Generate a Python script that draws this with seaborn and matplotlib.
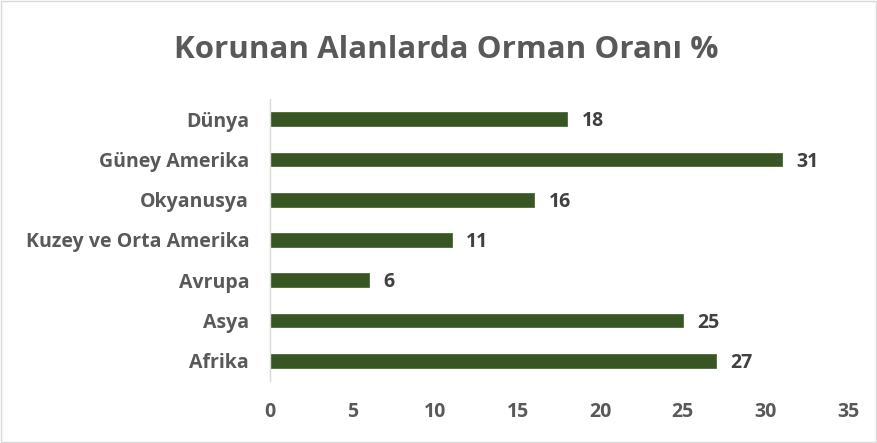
import matplotlib
matplotlib.use("Agg")
import matplotlib.pyplot as plt
import pandas as pd
import seaborn as sns

# Data (top to bottom)
regions = ["Dünya", "Güney Amerika", "Okyanusya", "Kuzey ve Orta Amerika",
           "Avrupa", "Asya", "Afrika"]
forest_pct = [18, 31, 16, 11, 6, 25, 27]
x_ticks = [0, 5, 10, 15, 20, 25, 30, 35]

df = pd.DataFrame({"region": regions, "pct": forest_pct})

sns.set_theme(style="white")
plt.rcParams["font.family"] = ["Open Sans", "DejaVu Sans"]

fig = plt.figure(figsize=(8.78, 4.43), dpi=100)
ax = fig.add_axes([0.3075, 0.14, 0.6583, 0.6365])

bar_color = "#375623"
sns.barplot(data=df, x="pct", y="region", order=regions, color=bar_color,
            width=0.34, saturation=1, edgecolor="#4a6b35", linewidth=0.6, ax=ax)

ax.set_xlim(0, 35)
ax.set_xticks(x_ticks)
ax.set_xticklabels([str(t) for t in x_ticks])
ax.set_xlabel("")
ax.set_ylabel("")

for s in ["top", "right", "bottom"]:
    ax.spines[s].set_visible(False)
ax.spines["left"].set_color("#d9d9d9")
ax.spines["left"].set_linewidth(1.0)

ax.tick_params(axis="x", length=0, pad=15, labelsize=14, labelcolor="#595959")
ax.tick_params(axis="y", length=0, pad=15, labelsize=14, labelcolor="#595959")
for lbl in ax.get_xticklabels() + ax.get_yticklabels():
    lbl.set_fontweight("bold")

# value labels at the bar ends
for i, v in enumerate(forest_pct):
    ax.annotate(str(v), xy=(v, i), xytext=(10.5, -1.5), textcoords="offset points",
                va="center", ha="left", fontsize=14, fontweight="bold",
                color="#404040")

fig.text(0.508, 0.888, "Korunan Alanlarda Orman Oranı %", ha="center", va="center",
         fontsize=22.5, fontweight="bold", color="#595959")

# light frame around the chart area
fig.patches.append(plt.Rectangle((0.001, 0.002), 0.997, 0.995, transform=fig.transFigure,
                                 fill=False, edgecolor="#d9d9d9", linewidth=1.0))

fig.savefig("out.png", dpi=100)
